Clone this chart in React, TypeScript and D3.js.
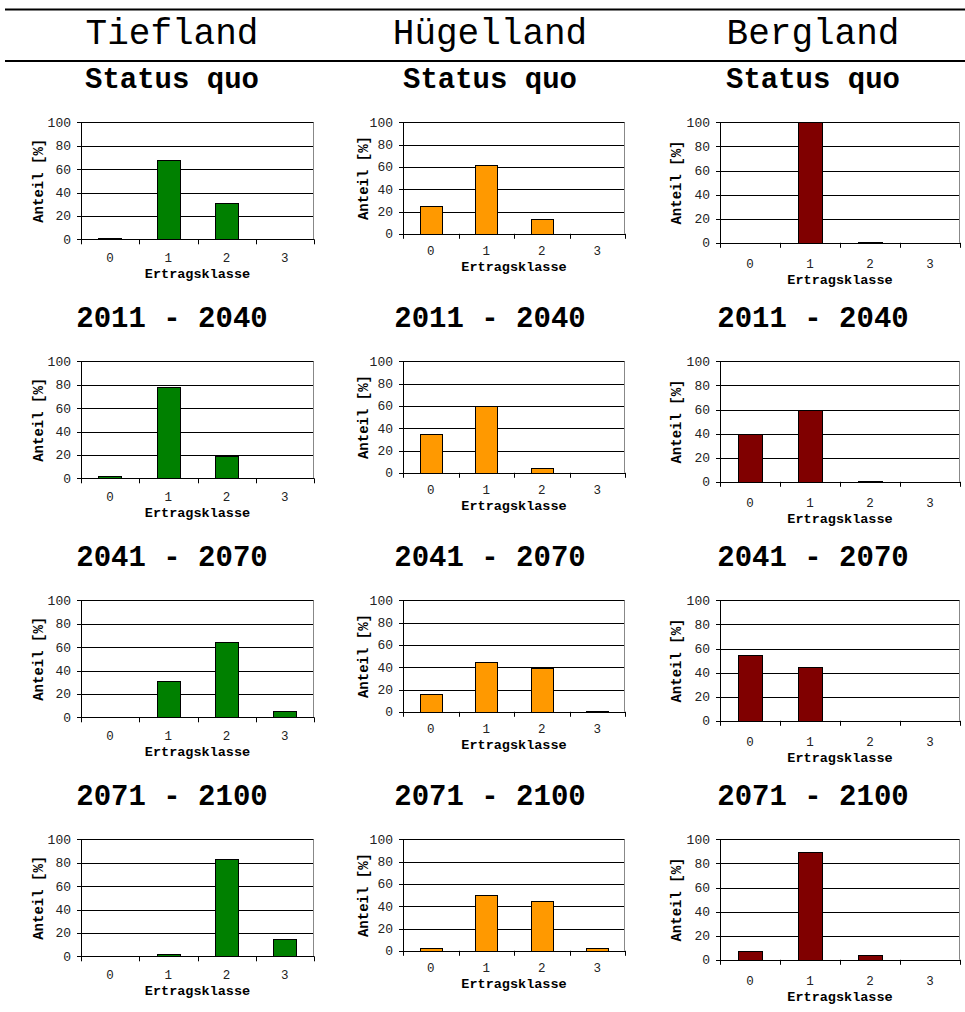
import React from "react";
import * as d3 from "d3";

const categories = ["0", "1", "2", "3"];
const regions = ["Tiefland", "Hügelland", "Bergland"];
const periods = ["Status quo", "2011 - 2040", "2041 - 2070", "2071 - 2100"];
const tieflandValues = [
  [1, 68, 31, 0],
  [2, 78, 19, 0],
  [0, 31, 64, 5],
  [0, 2, 83, 15],
];
const huegellandValues = [
  [25, 62, 13, 0],
  [35, 60, 4.5, 0],
  [16, 45, 39, 1],
  [2.5, 50, 45, 2.5],
];
const berglandValues = [
  [0, 100, 0.5, 0],
  [40, 60, 0.5, 0],
  [55, 45, 0, 0],
  [7, 89.5, 4, 0],
];
const yTicks = [0, 20, 40, 60, 80, 100];
const yAxisTitle = "Anteil [%]";
const xAxisTitle = "Ertragsklasse";

const regionValues = [tieflandValues, huegellandValues, berglandValues];
const regionColors = ["#008000", "#FF9900", "#800000"];

const FONT = "'Courier New', 'Liberation Mono', monospace";

// layout per column
const columns = [
  { left: 81, right: 314, h: 117, tickDy: 18.5, titleDy: 33.5, yTitleX: 38, center: 172 },
  { left: 403, right: 625, h: 111.5, tickDy: 17, titleDy: 32, yTitleX: 363, center: 490 },
  { left: 720, right: 960, h: 120.5, tickDy: 21, titleDy: 36, yTitleX: 676, center: 813 },
];
const ROW_TOP0 = 122.3;
const ROW_STEP = 239;

function Chart({ col, row }: { col: number; row: number }) {
  const c = columns[col];
  const top = ROW_TOP0 + ROW_STEP * row;
  const bottom = top + c.h;
  const values = regionValues[col][row];
  const x = d3.scaleBand<string>().domain(categories).range([c.left, c.right]).paddingInner(0.6).paddingOuter(0.3);
  const xOuter = d3.scaleBand<string>().domain(categories).range([c.left, c.right]).padding(0);
  const y = d3.scaleLinear().domain([0, 100]).range([bottom, top]);
  const boundaries = [...categories.map((k) => xOuter(k) as number), c.right];
  return (
    <g>
      {yTicks.filter((t) => t > 0).map((t) => (
        <line key={"g" + t} x1={c.left} x2={c.right} y1={Math.round(y(t)) + 0.5} y2={Math.round(y(t)) + 0.5} stroke="#000" strokeWidth={1} />
      ))}
      <line x1={c.right - 0.5} x2={c.right - 0.5} y1={y(100)} y2={y(0)} stroke="#888" strokeWidth={1} />
      {values.map((v, i) => (
        <rect
          key={"b" + i}
          x={Math.round(x(categories[i]) as number) + 0.5}
          y={Math.round(y(v)) + 0.5}
          width={Math.round(x.bandwidth())}
          height={Math.max(0, Math.round(y(0)) - Math.round(y(v)))}
          fill={regionColors[col]}
          stroke="#000"
          strokeWidth={1}
        />
      ))}
      <line x1={c.left + 0.5} x2={c.left + 0.5} y1={y(100)} y2={y(0) + 0.5} stroke="#000" strokeWidth={1} />
      {yTicks.map((t) => (
        <g key={"yt" + t}>
          <line x1={c.left - 4} x2={c.left} y1={Math.round(y(t)) + 0.5} y2={Math.round(y(t)) + 0.5} stroke="#000" strokeWidth={1} />
          <text x={c.left - 10} y={y(t)} dy="0.35em" textAnchor="end" fontFamily={FONT} fontSize={13} fill="#222">
            {t}
          </text>
        </g>
      ))}
      <line x1={c.left} x2={c.right} y1={Math.round(y(0)) + 0.5} y2={Math.round(y(0)) + 0.5} stroke="#000" strokeWidth={1} />
      {boundaries.map((bx, i) => (
        <line key={"xt" + i} x1={Math.round(bx) + 0.5} x2={Math.round(bx) + 0.5} y1={y(0)} y2={y(0) + 5} stroke="#000" strokeWidth={1} />
      ))}
      {categories.map((k) => (
        <text key={"xl" + k} x={(x(k) as number) + x.bandwidth() / 2} y={bottom + c.tickDy} dy="0.35em" textAnchor="middle" fontFamily={FONT} fontSize={12.5} fill="#222">
          {k}
        </text>
      ))}
      <text x={(c.left + c.right) / 2} y={bottom + c.titleDy} dy="0.35em" textAnchor="middle" fontFamily={FONT} fontSize={13.5} fontWeight="bold" fill="#000">
        {xAxisTitle}
      </text>
      <text
        transform={`translate(${c.yTitleX},${(top + bottom) / 2}) rotate(-90)`}
        textAnchor="middle"
        dy="0.35em"
        fontFamily={FONT}
        fontSize={14}
        fontWeight="bold"
        fill="#000"
      >
        {yAxisTitle}
      </text>
    </g>
  );
}

export default function App() {
  return (
    <svg width={965} height={1012} style={{ position: "absolute", left: 0, top: 0, background: "#fff" }}>
      <rect x={0} y={0} width={965} height={1012} fill="#fff" />
      <line x1={5} x2={965} y1={9.5} y2={9.5} stroke="#000" strokeWidth={2} />
      <line x1={5} x2={965} y1={61} y2={61} stroke="#000" strokeWidth={2} />
      {regions.map((r, i) => (
        <text key={r} x={columns[i].center} y={44} textAnchor="middle" fontFamily={FONT} fontSize={36} fill="#000">
          {r}
        </text>
      ))}
      {periods.map((p, row) =>
        regions.map((r, col) => (
          <text
            key={p + r}
            x={columns[col].center}
            y={ROW_TOP0 + ROW_STEP * row - 34.5}
            textAnchor="middle"
            fontFamily={FONT}
            fontSize={29}
            fontWeight="bold"
            fill="#000"
          >
            {p}
          </text>
        ))
      )}
      {periods.map((p, row) => regions.map((r, col) => <Chart key={"c" + p + r} col={col} row={row} />))}
    </svg>
  );
}
